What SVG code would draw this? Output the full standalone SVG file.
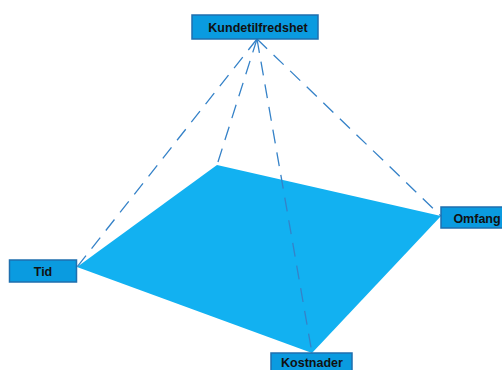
<svg xmlns="http://www.w3.org/2000/svg" width="502" height="370" viewBox="0 0 502 370">
<style>
.box{fill:#0a9be0;stroke:#1f6fae;stroke-width:1.5}
.lbl{font-family:"Liberation Sans",Arial,sans-serif;font-weight:bold;font-size:12.5px;fill:#111;text-anchor:middle}
.dash{stroke:#3582c8;stroke-width:1.3;stroke-dasharray:14 9;fill:none}
</style>
<rect width="502" height="370" fill="#fff"/>
<polygon id="plane" points="77,267 217,165 441,216 312,353" fill="#12b1f1"/>
<g id="connectors">
<line class="dash" x1="257" y1="39" x2="77" y2="267"/>
<line class="dash" x1="257" y1="39" x2="217" y2="165"/>
<line class="dash" x1="257" y1="39" x2="441" y2="216"/>
<line class="dash" x1="257" y1="39" x2="312" y2="353"/>
</g>
<g id="kundetilfredshet">
<rect class="box" x="192" y="15" width="126" height="24"/>
<text class="lbl" x="258" y="32">Kundetilfredshet</text>
</g>
<g id="tid">
<rect class="box" x="9.5" y="260" width="67" height="22"/>
<text class="lbl" x="43" y="275.5">Tid</text>
</g>
<g id="omfang">
<rect class="box" x="441" y="207" width="70" height="21"/>
<text class="lbl" x="477" y="222.5">Omfang</text>
</g>
<g id="kostnader">
<rect class="box" x="271" y="353" width="81" height="24"/>
<text class="lbl" x="312" y="366.5">Kostnader</text>
</g>
</svg>
